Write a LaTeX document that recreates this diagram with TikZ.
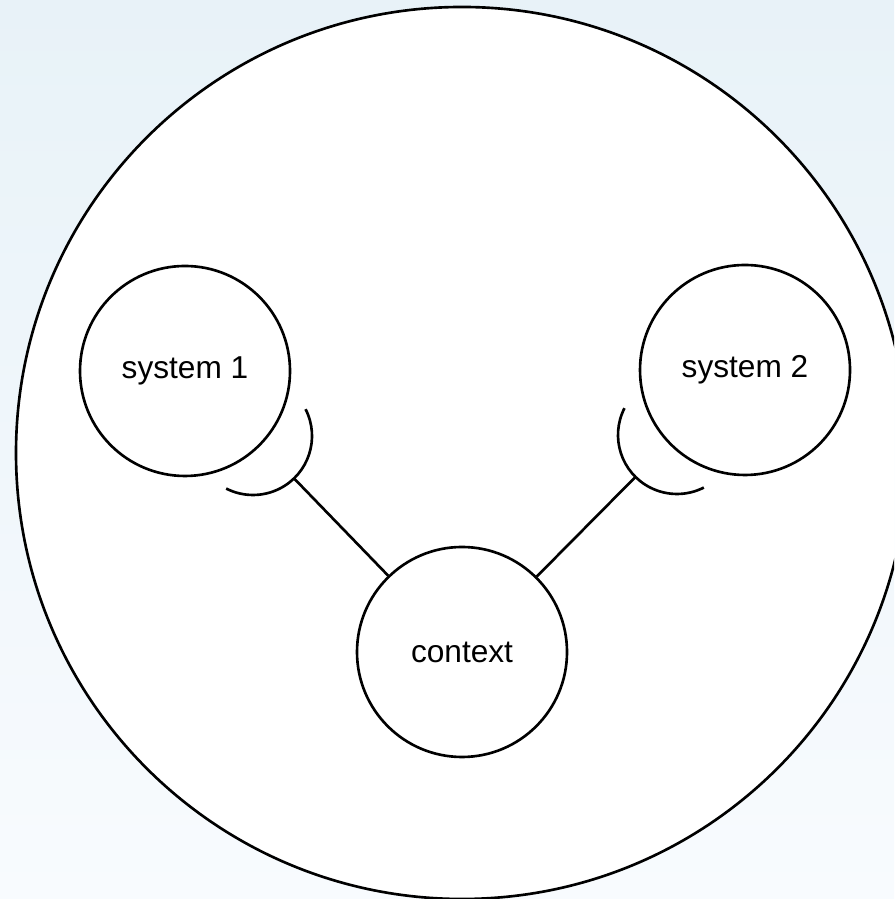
\documentclass[tikz,border=0pt]{standalone}
\usepackage{fontspec}
\setmainfont{Liberation Sans}
\usetikzlibrary{calc}

\definecolor{bgtop}{HTML}{E8F2F8}
\definecolor{bgbottom}{HTML}{F8FBFE}

\begin{document}
\begin{tikzpicture}[line width=0.75pt, font=\fontsize{9}{11}\selectfont,
    part/.style={circle, draw, fill=white, inner sep=0pt, minimum size=2.1cm}]
      % page and background
      \clip (0,0) rectangle (8.94,8.99);
      \fill[top color=bgtop, bottom color=bgbottom] (0,0) rectangle (8.94,8.99);
      \node[circle, draw, fill=white, inner sep=0pt, minimum size=8.92cm] (world) at (4.62,4.46) {};

      \node[part] (sys1) at (1.85,5.28) {system 1};
      \node[part] (sys2) at (7.45,5.29) {system 2};
      \node[part] (ctx) at (4.62,2.47) {context};

      % sockets on the two systems
      \coordinate (sock1) at (2.53,4.63);
      \coordinate (sock2) at (6.77,4.64);
      \draw ($(sock1)+(27:0.59)$) arc[start angle=27, end angle=-117, radius=0.59];
      \draw ($(sock2)+(153:0.59)$) arc[start angle=153, end angle=297, radius=0.59];
      \coordinate (plug1) at ($(sock1)!0.59cm!(ctx)$);
      \coordinate (plug2) at ($(sock2)!0.59cm!(ctx)$);

      \draw (ctx) -- (plug1);
      \draw (ctx) -- (plug2);
\end{tikzpicture}
\end{document}
